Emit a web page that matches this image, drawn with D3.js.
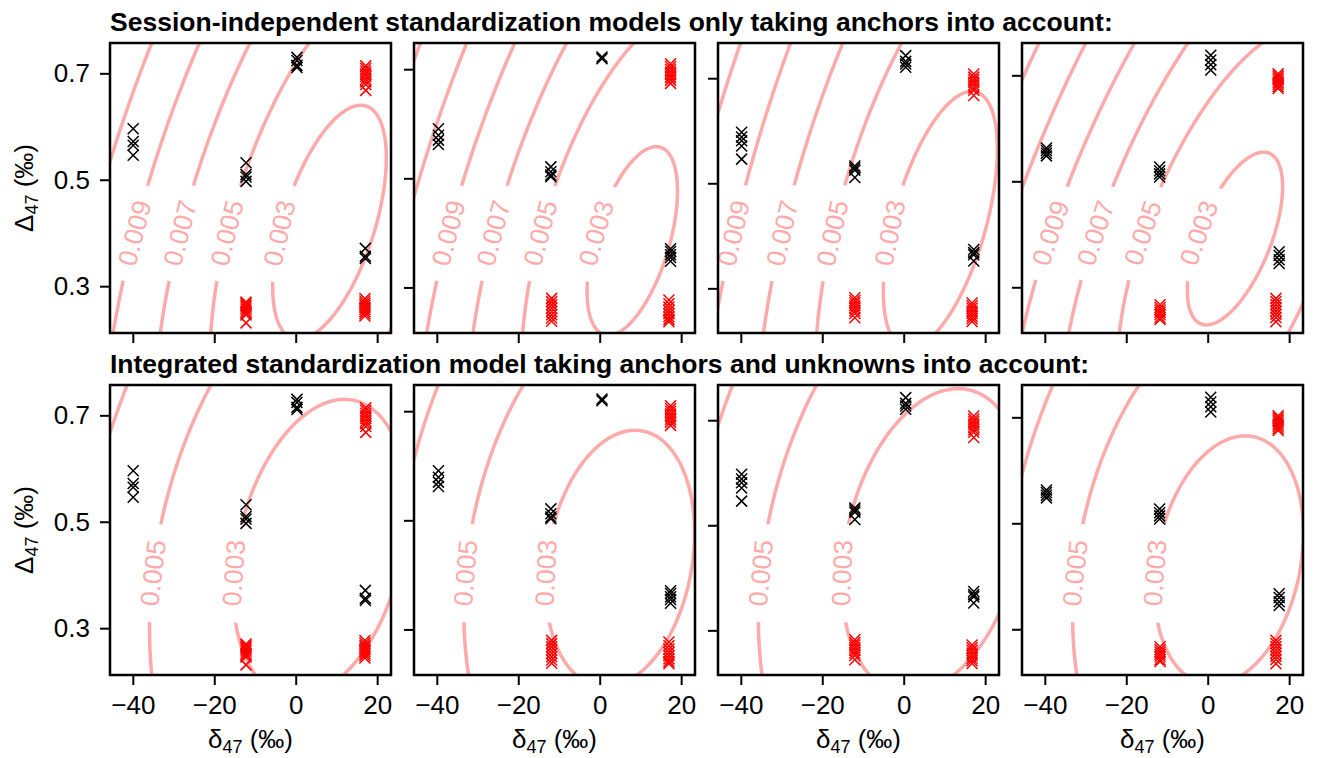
<!DOCTYPE html>
<html>
<head>
<meta charset="utf-8">
<script src="https://cdn.jsdelivr.net/npm/d3@7"></script>
<style>
  body { margin: 0; background: #fff; }
  text { font-family: "Liberation Sans", Arial, Helvetica, sans-serif; }
</style>
</head>
<body>
<div id="chart"></div>
<script>
// ---- data ----
const rowTitles = [
  "Session-independent standardization models only taking anchors into account:",
  "Integrated standardization model taking anchors and unknowns into account:"
];
const xTicks = [-40, -20, 0, 20];
const yTicks = [0.3, 0.5, 0.7];
const xDomain = [-45.6, 23.4];
// y limits, one per session (column)
const yDomains = [[0.212, 0.757], [0.2165, 0.748], [0.215, 0.767], [0.2137, 0.761]];

const contourLevels = [0.003, 0.005, 0.007, 0.009, 0.011, 0.013];
const labelledLevels = [[0.003, 0.005, 0.007, 0.009], [0.003, 0.005]];

// standard error surface of each model: [centre d47, centre D47, x half-extent of the
// 0.003 contour, y half-extent of the 0.003 contour, correlation, minimum SE]
const seTop = [
  [8.3, 0.42, 13.95, 0.22, 0.55, 0.00208],
  [8.0, 0.385, 11.1, 0.173, 0.53, 0.00241],
  [9.0, 0.43, 14.0, 0.245, 0.55, 0.0022],
  [6.7, 0.392, 11.7, 0.163, 0.6, 0.00242]
];
const seBottom = [
  [6.0, 0.45, 21.35, 0.28, 0.28, 0.00184],
  [5.0, 0.43, 18.3, 0.235, 0.2, 0.00207],
  [7.3, 0.47, 22.5, 0.29, 0.27, 0.00172],
  [5.2, 0.43, 18.3, 0.235, 0.22, 0.00207]
];

// anchors (black) and unknowns (red), [d47, D47], one list per session
const anchors = [
  [[-39.9, 0.596], [-39.9, 0.572], [-39.9, 0.565], [-39.9, 0.546],
   [-12.2, 0.532], [-12.2, 0.51], [-12.2, 0.505], [-12.2, 0.497],
   [0.3, 0.730], [0.3, 0.724], [0.3, 0.715], [0.3, 0.711],
   [17.1, 0.371], [17.1, 0.356], [17.1, 0.352]],
  [[-39.6, 0.591], [-39.6, 0.579], [-39.6, 0.570], [-39.6, 0.562],
   [-12.0, 0.521], [-12.0, 0.512], [-12.0, 0.506], [-12.0, 0.503],
   [0.56, 0.7225], [0.56, 0.719],
   [17.4, 0.371], [17.4, 0.366], [17.4, 0.36], [17.4, 0.355], [17.4, 0.348]],
  [[-39.8, 0.597], [-39.8, 0.588], [-39.8, 0.581], [-39.8, 0.571], [-39.8, 0.546],
   [-12.0, 0.533], [-12.0, 0.529], [-12.0, 0.525], [-12.0, 0.511],
   [0.49, 0.743], [0.49, 0.732], [0.49, 0.727], [0.49, 0.721],
   [17.2, 0.374], [17.2, 0.368], [17.2, 0.364], [17.2, 0.352]],
  [[-39.6, 0.563], [-39.6, 0.558], [-39.6, 0.553], [-39.6, 0.548],
   [-11.8, 0.527], [-11.8, 0.520], [-11.8, 0.514], [-11.8, 0.508],
   [0.75, 0.738], [0.75, 0.729], [0.75, 0.720], [0.75, 0.710],
   [17.55, 0.367], [17.55, 0.360], [17.55, 0.352], [17.55, 0.345]]
];
const unknowns = [
  [[-12.2, 0.270], [-12.2, 0.267], [-12.2, 0.264], [-12.2, 0.261], [-12.2, 0.257],
   [-12.2, 0.253], [-12.2, 0.249], [-12.2, 0.246], [-12.2, 0.231],
   [17.0, 0.277], [17.0, 0.272], [17.0, 0.268], [17.0, 0.264], [17.0, 0.260],
   [17.0, 0.256], [17.0, 0.252], [17.0, 0.248], [17.0, 0.244],
   [17.2, 0.714], [17.2, 0.709], [17.2, 0.704], [17.2, 0.699], [17.2, 0.694],
   [17.2, 0.689], [17.2, 0.684], [17.2, 0.679], [17.2, 0.668]],
  [[-11.8, 0.280], [-11.8, 0.274], [-11.8, 0.268], [-11.8, 0.262], [-11.8, 0.256],
   [-11.8, 0.250], [-11.8, 0.244], [-11.8, 0.238],
   [17.0, 0.277], [17.0, 0.270], [17.0, 0.264], [17.0, 0.258], [17.0, 0.252],
   [17.0, 0.246], [17.0, 0.241], [17.0, 0.237],
   [17.4, 0.710], [17.4, 0.705], [17.4, 0.700], [17.4, 0.695], [17.4, 0.690],
   [17.4, 0.685], [17.4, 0.680], [17.4, 0.674]],
  [[-12.0, 0.282], [-12.0, 0.277], [-12.0, 0.272], [-12.0, 0.267], [-12.0, 0.262],
   [-12.0, 0.257], [-12.0, 0.252], [-12.0, 0.244],
   [16.8, 0.272], [16.8, 0.267], [16.8, 0.262], [16.8, 0.257], [16.8, 0.252],
   [16.8, 0.247], [16.8, 0.242], [16.8, 0.237],
   [17.2, 0.708], [17.2, 0.702], [17.2, 0.697], [17.2, 0.692], [17.2, 0.687],
   [17.2, 0.682], [17.2, 0.677], [17.2, 0.667]],
  [[-11.7, 0.267], [-11.7, 0.262], [-11.7, 0.257], [-11.7, 0.253], [-11.7, 0.248],
   [-11.7, 0.243], [-11.7, 0.239],
   [16.75, 0.279], [16.75, 0.273], [16.75, 0.267], [16.75, 0.261], [16.75, 0.255],
   [16.75, 0.249], [16.75, 0.243], [16.75, 0.235],
   [17.3, 0.703], [17.3, 0.699], [17.3, 0.695], [17.3, 0.691], [17.3, 0.687],
   [17.3, 0.683], [17.3, 0.679], [17.3, 0.675]]
];

// ---- layout ----
const width = 1322, height = 758;
const colX = [110, 414, 718, 1022];
const rowY = [43, 385];
const pw = 281, ph = 290;
const labelRowY = [190, 188];   // where the contour labels sit, px below panel top
const refLevel = 0.003;
const pink = "#ffaaaa";
const fontSize = 26;

const svg = d3.select("#chart").append("svg")
    .attr("width", width)
    .attr("height", height);

function makeSE(p) {
    const [cx, cy, sx, sy, rho, s0] = p;
    const k = refLevel * refLevel - s0 * s0;
    return function (x, y) {
        let u = (x - cx) / sx, v = (y - cy) / sy;
        let r2 = (u * u - 2 * rho * u * v + v * v) / (1 - rho * rho);
        return Math.sqrt(s0 * s0 + k * r2);
    };
}

function drawPanel(r, c) {
    let x = d3.scaleLinear().domain(xDomain).range([0, pw]);
    let y = d3.scaleLinear().domain(yDomains[c]).range([ph, 0]);
    let se = makeSE(r === 0 ? seTop[c] : seBottom[c]);
    let f = (px, py) => se(x.invert(px), y.invert(py));
    let id = `p${r}${c}`;

    let g = svg.append("g")
        .attr("transform", `translate(${colX[c]},${rowY[r]})`);

    let defs = g.append("defs");
    defs.append("clipPath").attr("id", "clip-" + id)
        .append("rect").attr("width", pw).attr("height", ph);
    let mask = defs.append("mask").attr("id", "mask-" + id)
        .attr("maskUnits", "userSpaceOnUse")
        .attr("x", -50).attr("y", -50).attr("width", pw + 100).attr("height", ph + 100);
    mask.append("rect")
        .attr("x", -50).attr("y", -50).attr("width", pw + 100).attr("height", ph + 100)
        .attr("fill", "white");

    // sample the surface a bit beyond the frame so the grid border stays clipped
    let step = 2, pad = 20;
    let nx = Math.ceil((pw + 2 * pad) / step) + 1;
    let ny = Math.ceil((ph + 2 * pad) / step) + 1;
    let values = new Array(nx * ny);
    for (let j = 0; j < ny; j++) {
        for (let i = 0; i < nx; i++) {
            values[j * nx + i] = f(-pad + i * step, -pad + j * step);
        }
    }
    let contours = d3.contours().size([nx, ny]).thresholds(contourLevels)(values);
    let path = d3.geoPath(d3.geoTransform({
        point: function (gx, gy) {
            this.stream.point(-pad + (gx - 0.5) * step, -pad + (gy - 0.5) * step);
        }
    }));

    g.append("g")
        .attr("clip-path", `url(#clip-${id})`)
        .append("g")
        .attr("mask", `url(#mask-${id})`)
        .selectAll("path")
        .data(contours)
        .enter()
        .append("path")
        .attr("d", path)
        .attr("fill", "none")
        .attr("stroke", pink)
        .attr("stroke-width", 3.5);

    // inline contour labels
    let ly = labelRowY[r];
    labelledLevels[r].forEach(L => {
        let prev = f(0, ly) - L, lx = null;
        for (let px = 0.5; px <= pw; px += 0.5) {
            let cur = f(px, ly) - L;
            if (prev > 0 && cur <= 0) { lx = px - 0.5 + 0.5 * prev / (prev - cur); break; }
            prev = cur;
        }
        if (lx === null) return;
        let gx = f(lx + 1, ly) - f(lx - 1, ly);
        let gy = f(lx, ly + 1) - f(lx, ly - 1);
        let tx = -gy, ty = gx;
        if (ty > 0) { tx = -tx; ty = -ty; }
        let angle = Math.atan2(ty, tx) * 180 / Math.PI;

        let label = g.append("text")
            .attr("transform", `translate(${lx},${ly})rotate(${angle})`)
            .attr("text-anchor", "middle")
            .attr("dy", "0.35em")
            .attr("font-size", 26.5)
            .attr("fill", pink)
            .text(d3.format(".3f")(L));
        let len = label.node().getComputedTextLength();
        mask.append("rect")
            .attr("x", -len / 2 - 16).attr("y", -12)
            .attr("width", len + 32).attr("height", 24)
            .attr("transform", `translate(${lx},${ly})rotate(${angle})`)
            .attr("fill", "black");
    });

    // markers
    let cross = "M-5.5,-5.5L5.5,5.5M-5.5,5.5L5.5,-5.5";
    [[anchors[c], "#000"], [unknowns[c], "#ff0000"]].forEach(([pts, col]) => {
        g.append("g").selectAll("path")
            .data(pts)
            .enter()
            .append("path")
            .attr("d", cross)
            .attr("transform", d => `translate(${x(d[0])},${y(d[1])})`)
            .attr("fill", "none")
            .attr("stroke", col)
            .attr("stroke-width", 1.5);
    });

    // axes
    let xAxis = d3.axisBottom(x).tickValues(xTicks)
        .tickSize(10).tickSizeOuter(0).tickPadding(11)
        .tickFormat(r === 1 ? d3.format("d") : "");
    let yAxis = d3.axisLeft(y).tickValues(yTicks)
        .tickSize(10).tickSizeOuter(0).tickPadding(10)
        .tickFormat(c === 0 ? d3.format(".1f") : "");

    [g.append("g").attr("transform", `translate(0,${ph})`).call(xAxis),
     g.append("g").call(yAxis)].forEach(a => {
        a.select(".domain").remove();
        a.attr("font-size", fontSize).attr("font-family", null);
        a.selectAll("line").attr("stroke-width", 2);
        a.selectAll("text").attr("fill", "#000");
    });

    g.append("rect")
        .attr("width", pw).attr("height", ph)
        .attr("fill", "none")
        .attr("stroke", "#000")
        .attr("stroke-width", 2.5);
}

for (let r = 0; r < 2; r++) {
    for (let c = 0; c < 4; c++) drawPanel(r, c);
}

// row titles
rowTitles.forEach((t, r) => {
    svg.append("text")
        .attr("x", colX[0])
        .attr("y", r === 0 ? 31 : 373)
        .attr("font-size", 26.5)
        .attr("font-weight", "bold")
        .text(t);
});

// axis labels
function axisLabel(sel, sym) {
    sel.append("tspan").text(sym);
    sel.append("tspan").attr("font-size", 18).attr("dy", 5).text("47");
    sel.append("tspan").attr("dy", -5).text(" (‰)");
}
rowY.forEach(ry => {
    svg.append("text")
        .attr("transform", `translate(33,${ry + ph / 2})rotate(-90)`)
        .attr("text-anchor", "middle")
        .attr("font-size", fontSize)
        .call(axisLabel, "Δ");
});
colX.forEach(cx => {
    svg.append("text")
        .attr("x", cx + pw / 2)
        .attr("y", 748)
        .attr("text-anchor", "middle")
        .attr("font-size", fontSize)
        .call(axisLabel, "δ");
});
</script>
</body>
</html>
